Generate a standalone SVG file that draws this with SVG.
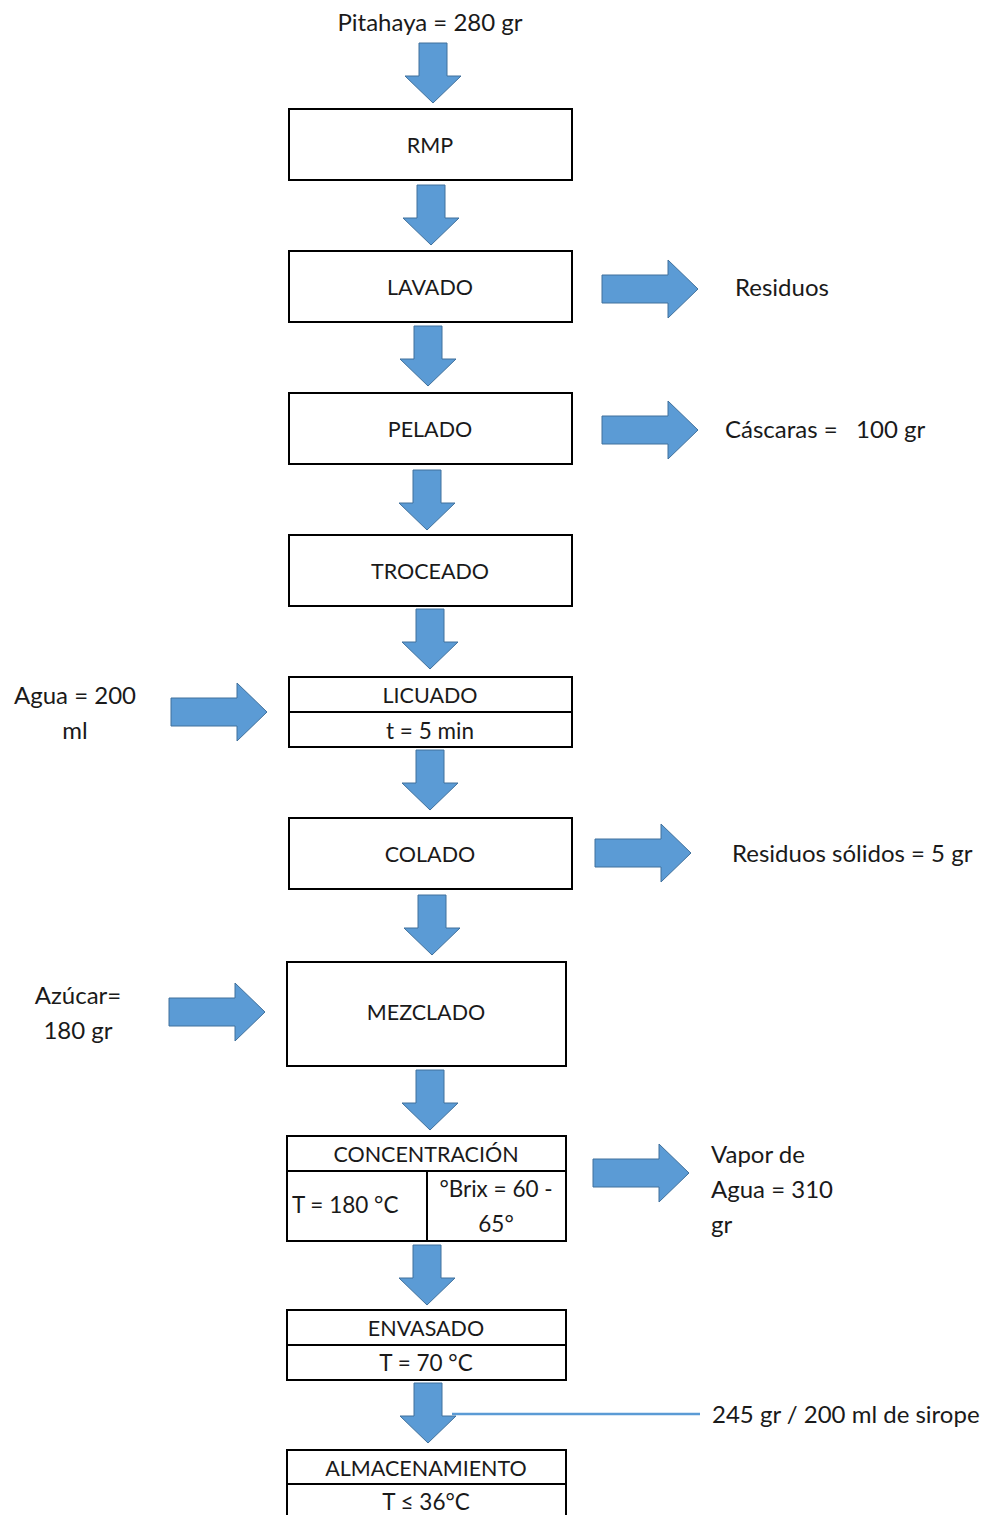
<svg xmlns="http://www.w3.org/2000/svg" width="990" height="1515" viewBox="0 0 990 1515">
  <defs>
    <!-- block arrow shapes, drawn with tip at origin -->
    <path id="down" d="M-14,-60 H14 V-27 H28 L0,0 L-28,-27 H-14 Z"/>
    <path id="right" d="M-96,-14 V14 H-30 V29 L0,0 L-30,-29 V-14 Z"/>
  </defs>
  <style>
    text { font-family: Lato, "Open Sans", "Liberation Sans", sans-serif; font-size: 24px; fill: #1a1a1a; }
    .c { text-anchor: middle; }
    .u { font-size: 21.5px; }
    .s { font-size: 22.5px; }
    .box { fill: #ffffff; stroke: #000000; stroke-width: 2; }
    .div { stroke: #000000; stroke-width: 2; fill: none; }
    .arr { fill: #5B9BD5; stroke: #41719C; stroke-width: 1; }
    .lead { stroke: #5B9BD5; stroke-width: 2.5; fill: none; }
  </style>
  <rect width="990" height="1515" fill="#ffffff"/>

  <g id="connectors">
    <use href="#down" class="arr" x="433" y="103"/>
    <use href="#down" class="arr" x="431" y="245"/>
    <use href="#down" class="arr" x="428" y="386"/>
    <use href="#down" class="arr" x="427" y="530"/>
    <use href="#down" class="arr" x="430" y="669"/>
    <use href="#down" class="arr" x="430" y="810"/>
    <use href="#down" class="arr" x="432" y="955"/>
    <use href="#down" class="arr" x="430" y="1130"/>
    <use href="#down" class="arr" x="427" y="1305"/>
    <use href="#down" class="arr" x="428" y="1443"/>
    <use href="#right" class="arr" x="698" y="289"/>
    <use href="#right" class="arr" x="698" y="430"/>
    <use href="#right" class="arr" x="691" y="853"/>
    <use href="#right" class="arr" x="689" y="1173"/>
    <use href="#right" class="arr" x="267" y="712"/>
    <use href="#right" class="arr" x="265" y="1012"/>
    <line class="lead" x1="452" y1="1414" x2="700" y2="1414"/>
  </g>

  <g id="input-pitahaya"><text class="c" x="430" y="31">Pitahaya = 280 gr</text></g>

  <g id="rmp">
    <rect class="box" x="289" y="109" width="283" height="71"/>
    <text class="c u" x="430" y="153">RMP</text>
  </g>
  <g id="lavado">
    <rect class="box" x="289" y="251" width="283" height="71"/>
    <text class="c u" x="430" y="295">LAVADO</text>
  </g>
  <g id="pelado">
    <rect class="box" x="289" y="393" width="283" height="71"/>
    <text class="c u" x="430" y="437">PELADO</text>
  </g>
  <g id="troceado">
    <rect class="box" x="289" y="535" width="283" height="71"/>
    <text class="c u" x="430" y="579">TROCEADO</text>
  </g>
  <g id="licuado">
    <rect class="box" x="289" y="677" width="283" height="70"/>
    <line class="div" x1="289" y1="712" x2="572" y2="712"/>
    <text class="c u" x="430" y="703">LICUADO</text>
    <text class="c s" x="430" y="739">t = 5 min</text>
  </g>
  <g id="colado">
    <rect class="box" x="289" y="818" width="283" height="71"/>
    <text class="c u" x="430" y="862">COLADO</text>
  </g>
  <g id="mezclado">
    <rect class="box" x="287" y="962" width="279" height="104"/>
    <text class="c u" x="426" y="1020">MEZCLADO</text>
  </g>
  <g id="concentracion">
    <rect class="box" x="287" y="1136" width="279" height="105"/>
    <line class="div" x1="287" y1="1171" x2="566" y2="1171"/>
    <line class="div" x1="427" y1="1171" x2="427" y2="1241"/>
    <text class="c u" x="426" y="1162">CONCENTRACIÓN</text>
    <text class="s" x="292" y="1213">T = 180 °C</text>
    <text class="c s" x="496" y="1197">°Brix = 60 -</text>
    <text class="c s" x="496" y="1232">65°</text>
  </g>
  <g id="envasado">
    <rect class="box" x="287" y="1310" width="279" height="70"/>
    <line class="div" x1="287" y1="1345" x2="566" y2="1345"/>
    <text class="c u" x="426" y="1336">ENVASADO</text>
    <text class="c s" x="426" y="1371">T = 70 °C</text>
  </g>
  <g id="almacenamiento">
    <path class="div" d="M287,1516 V1450 H566 V1516"/>
    <line class="div" x1="287" y1="1484" x2="566" y2="1484"/>
    <text class="c u" x="426" y="1476">ALMACENAMIENTO</text>
    <text class="c s" x="426" y="1510">T ≤ 36°C</text>
  </g>

  <g id="out-residuos"><text x="735" y="296">Residuos</text></g>
  <g id="out-cascaras"><text x="725" y="438" xml:space="preserve">Cáscaras =   100 gr</text></g>
  <g id="out-solidos"><text x="732" y="862">Residuos sólidos = 5 gr</text></g>
  <g id="out-vapor">
    <text x="711" y="1163">Vapor de</text>
    <text x="711" y="1198">Agua = 310</text>
    <text x="711" y="1233">gr</text>
  </g>
  <g id="in-agua">
    <text class="c" x="75" y="704">Agua = 200</text>
    <text class="c" x="75" y="739">ml</text>
  </g>
  <g id="in-azucar">
    <text class="c" x="78" y="1004">Azúcar=</text>
    <text class="c" x="78" y="1039">180 gr</text>
  </g>
  <g id="out-sirope"><text x="712" y="1423">245 gr / 200 ml de sirope</text></g>
</svg>
